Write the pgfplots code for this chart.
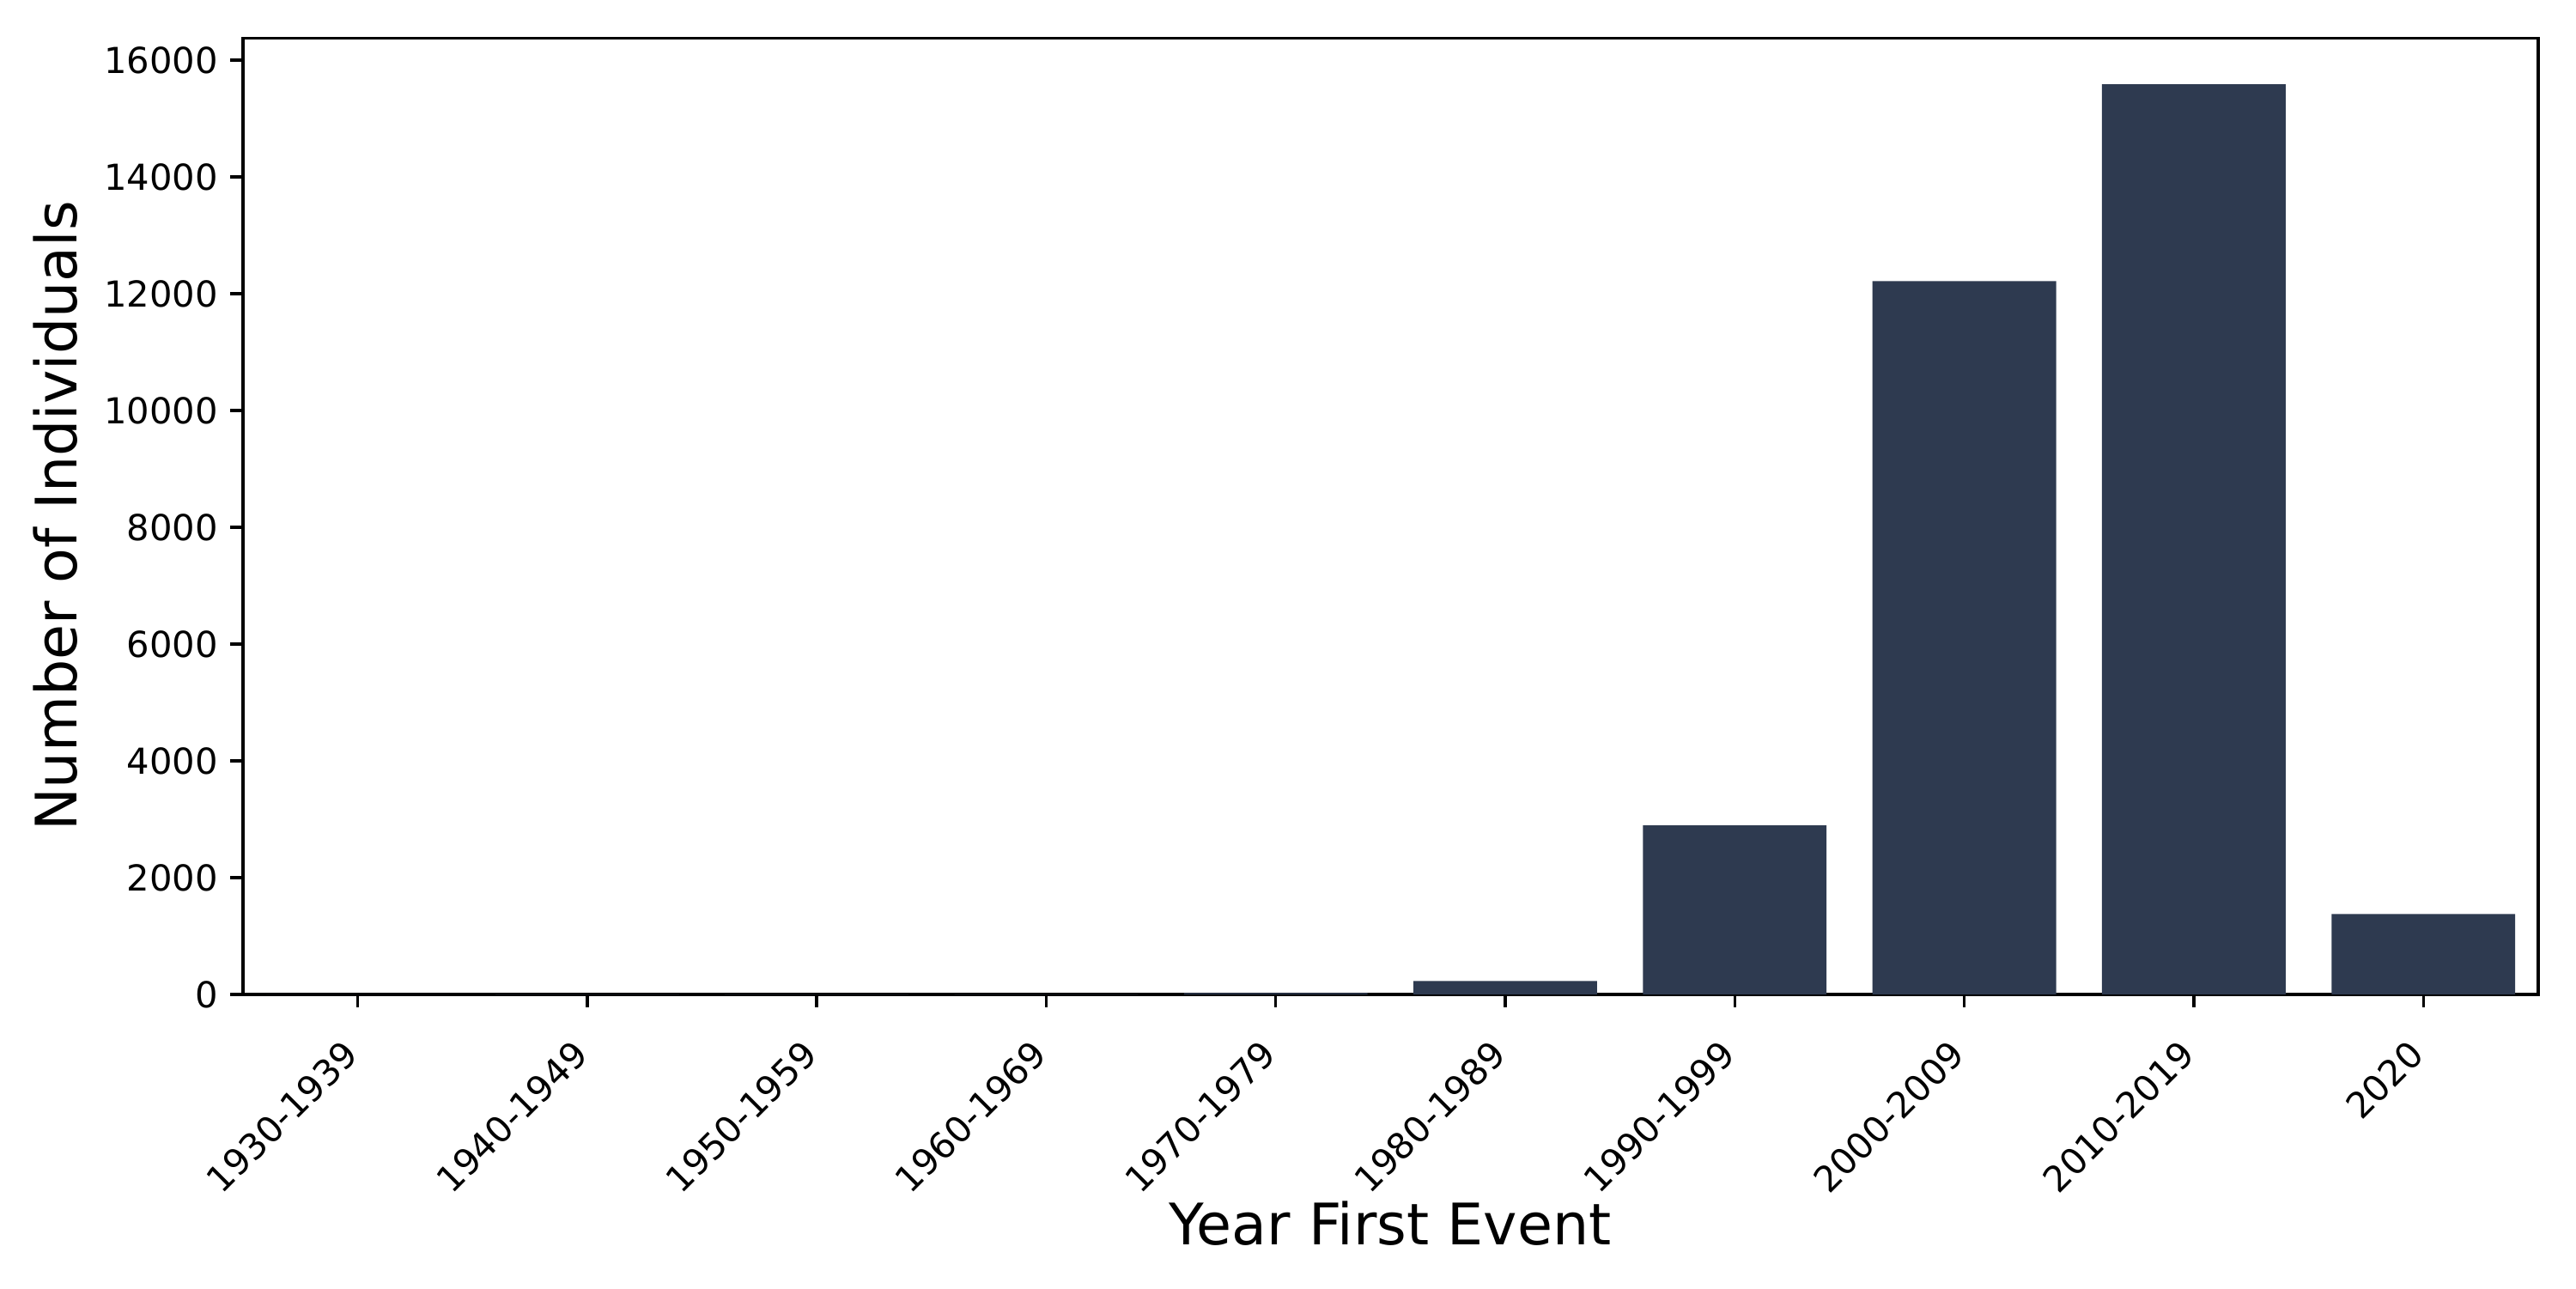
\documentclass[border=0pt]{standalone}
\usepackage{fontspec}
\setmainfont{DejaVu Sans}
\usepackage{pgfplots}
\pgfplotsset{compat=1.18}
\definecolor{barc}{HTML}{2E3A50}
\begin{document}
\begin{tikzpicture}
\begin{axis}[
  name=ax,
  at={(0,0)}, anchor=south west,
  scale only axis,
  width=641.5pt, height=267.3pt,
  xmin=-0.5, xmax=9.5,
  ymin=0, ymax=16380,
  ybar, bar width=0.8,
  xtick={0,...,9},
  xticklabels={1930-1939,1940-1949,1950-1959,1960-1969,1970-1979,1980-1989,1990-1999,2000-2009,2010-2019,2020},
  ytick={0,2000,...,16000},
  scaled y ticks=false,
  /pgf/number format/1000 sep={},
  /pgf/number format/assume math mode=true,
  tick label style={font=\fontsize{10}{12}\selectfont},
  xticklabel style={rotate=45, anchor=north east, inner sep=1pt, xshift=-8.2pt, yshift=-1.8pt},
  tick align=outside,
  xtick pos=left, ytick pos=left,
  major tick length=3.5pt,
  every tick/.style={black, line width=0.8pt},
  axis line style={line width=0.8pt},
  xlabel={Year First Event},
  ylabel={Number of Individuals},
  label style={font=\fontsize{16}{19}\selectfont},
  xlabel style={yshift=3.2pt},
  ylabel style={at={(ticklabel cs:0.5)}, yshift=0.5pt},
]
\addplot[fill=barc, draw=none] coordinates {
  (0,2) (1,3) (2,4) (3,6) (4,22) (5,230) (6,2896) (7,12215) (8,15585) (9,1375)
};
\end{axis}
\pgfresetboundingbox
\path[use as bounding box] (-67.9pt,-82.1pt) rectangle (652.1pt,277.9pt);
\end{tikzpicture}
\end{document}
